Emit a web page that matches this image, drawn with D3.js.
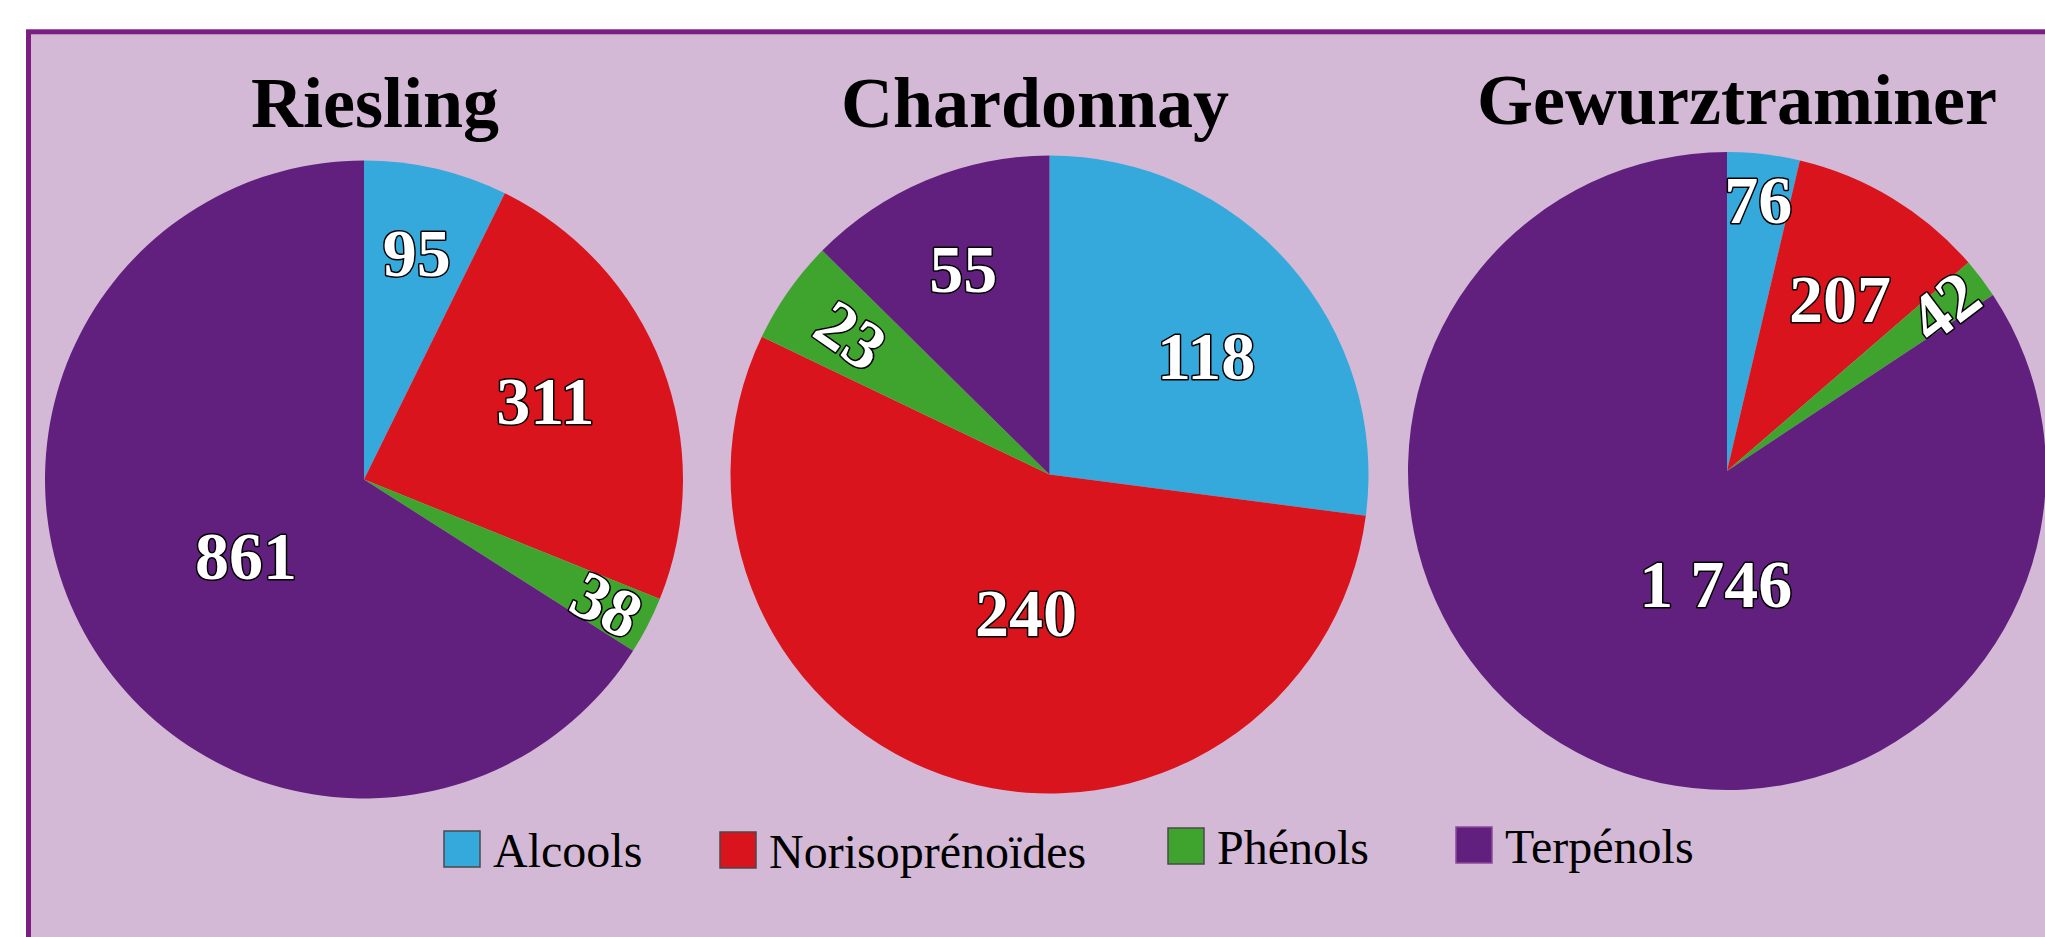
<!DOCTYPE html>
<html>
<head>
<meta charset="utf-8">
<script src="https://cdn.jsdelivr.net/npm/d3@7"></script>
<style>
  html, body { margin: 0; padding: 0; background: #ffffff; }
  svg { display: block; }
</style>
</head>
<body>
<div id="chart"></div>
<script>
// ---- DATA ----
const categories = ["Alcools", "Norisoprénoïdes", "Phénols", "Terpénols"];
const cepages = ["Riesling", "Chardonnay", "Gewurztraminer"];
const rieslingValues = [95, 311, 38, 861];
const chardonnayValues = [118, 240, 23, 55];
const gewurzValues = [76, 207, 42, 1746];
const seriesValues = [rieslingValues, chardonnayValues, gewurzValues];

// ---- STYLE / LAYOUT ----
const colors = ["#35A9DB", "#DA141C", "#3FA42E", "#61207E"];
const W = 2045, H = 937;
const pieCenters = [[364, 479.5], [1049.5, 474.5], [1727, 471]];
const pieRadius = 319;
const titlePos = [[375, 127], [1035, 127], [1737, 124]];
// label radial fraction and angular offset (deg) for each slice
const labelRadius = [[0.73, 0.62, 0.856, 0.44], [0.615, 0.44, 0.76, 0.70], [0.855, 0.645, 0.855, 0.355]];
const labelOffset = [[0, -2.6, 0, -4], [4.2, -6.9, 0, 0], [0, 2.1, 0, -22.6]];
const rotatedCategory = "Phénols";
const legendPos = [[444, 831], [720, 832], [1168, 828], [1456, 827]];

const fmt = v => d3.format(",")(v).replace(/,/g, " ");

const svg = d3.select("#chart").append("svg")
  .attr("width", W).attr("height", H);

svg.append("rect")
  .attr("x", 28.5).attr("y", 31.8)
  .attr("width", 2200).attr("height", 1100)
  .attr("fill", "#D4B9D7")
  .attr("stroke", "#7B1E82")
  .attr("stroke-width", 5);

const pie = d3.pie().sort(null).value(d => d);
const arc = d3.arc().innerRadius(0).outerRadius(pieRadius);

seriesValues.forEach((vals, ci) => {
  const [cx, cy] = pieCenters[ci];
  const g = svg.append("g").attr("transform", `translate(${cx},${cy})`);
  const arcs = pie(vals);

  g.selectAll("path.slice").data(arcs).enter().append("path")
    .attr("class", "slice")
    .attr("d", arc)
    .attr("fill", (d, i) => colors[i]);

  g.selectAll("text.lbl").data(arcs).enter().append("text")
    .attr("class", "lbl")
    .attr("transform", (d, i) => {
      const mid = (d.startAngle + d.endAngle) / 2 + labelOffset[ci][i] * Math.PI / 180;
      const r = labelRadius[ci][i] * pieRadius;
      const la = d3.arc().innerRadius(r).outerRadius(r).startAngle(mid).endAngle(mid);
      const [x, y] = la.centroid();
      let rot = 0;
      if (categories[i] === rotatedCategory) {
        rot = mid * 180 / Math.PI - 90;
        while (rot > 90) rot -= 180;
        while (rot <= -90) rot += 180;
      }
      return `translate(${x},${y}) rotate(${rot})`;
    })
    .attr("text-anchor", "middle")
    .attr("dy", "0.34em")
    .attr("font-family", "'Liberation Serif', 'Times New Roman', serif")
    .attr("font-weight", "bold")
    .attr("font-size", 68)
    .attr("fill", "#ffffff")
    .attr("stroke", "#000000")
    .attr("stroke-width", 3)
    .attr("paint-order", "stroke")
    .attr("stroke-linejoin", "round")
    .text(d => fmt(d.data));

  svg.append("text")
    .attr("x", titlePos[ci][0]).attr("y", titlePos[ci][1])
    .attr("text-anchor", "middle")
    .attr("font-family", "'Liberation Serif', 'Times New Roman', serif")
    .attr("font-weight", "bold")
    .attr("font-size", 72)
    .attr("fill", "#000000")
    .text(cepages[ci]);
});

const legend = svg.append("g");
categories.forEach((c, i) => {
  const [lx, ly] = legendPos[i];
  legend.append("rect")
    .attr("x", lx).attr("y", ly)
    .attr("width", 36).attr("height", 36)
    .attr("fill", colors[i])
    .attr("stroke", i === 3 ? "#8a4a9a" : "#4a4a4a")
    .attr("stroke-width", 1.5);
  legend.append("text")
    .attr("x", lx + 49).attr("y", ly + 36)
    .attr("font-family", "'Liberation Serif', 'Times New Roman', serif")
    .attr("font-size", 48)
    .attr("fill", "#000000")
    .text(c);
});
</script>
</body>
</html>
